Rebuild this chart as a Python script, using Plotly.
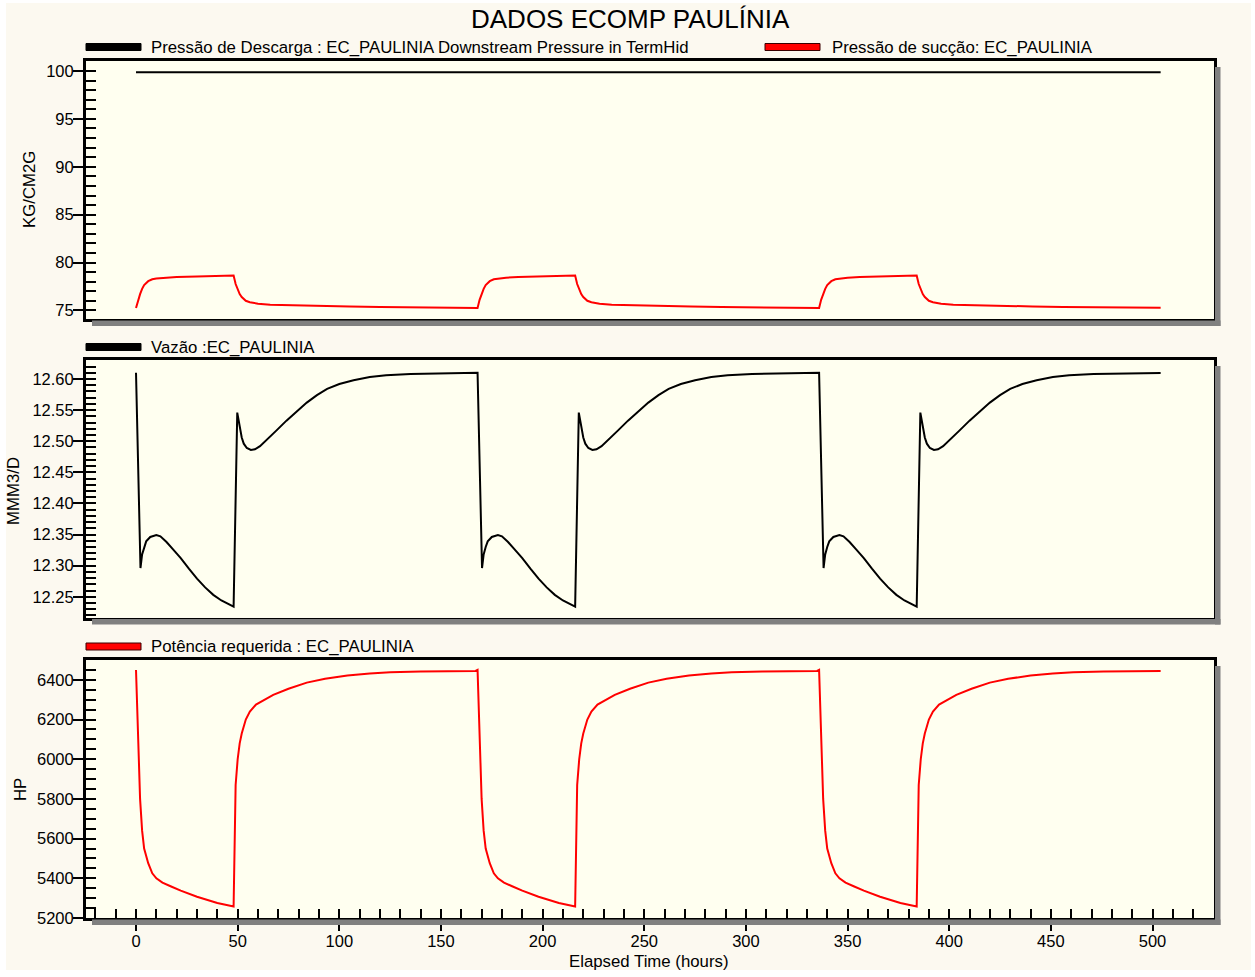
import plotly.graph_objects as go

W, H = 1255, 977

# ---------------- data ----------------
title_text = "DADOS ECOMP PAULÍNIA"
x_title = "Elapsed Time (hours)"
y_titles = ["KG/CM2G", "MMM3/D", "HP"]
legend_names = [
    "Pressão de Descarga : EC_PAULINIA Downstream Pressure in TermHid",
    "Pressão de sucção: EC_PAULINIA",
    "Vazão :EC_PAULINIA",
    "Potência requerida : EC_PAULINIA",
]

cycle_period = 168
n_cycles = 3
end_hour = 504

# discharge pressure (constant)
discharge_t = [0, 504]
discharge_v = [99.88, 99.88]

# suction pressure, one weekly cycle
suction_t = [0, 1, 2, 3, 4, 6, 8, 10, 14, 20, 30, 40, 48,
             49, 50, 51, 52, 54, 56, 60, 66, 75, 90, 105, 120, 140, 167]
suction_v = [75.25, 76.1, 76.7, 77.25, 77.65, 78.05, 78.25, 78.33, 78.42, 78.48, 78.54, 78.6, 78.65,
             77.75, 77.15, 76.7, 76.4, 76.0, 75.85, 75.7, 75.6, 75.54, 75.47, 75.41, 75.36, 75.32, 75.28]

# flow, one weekly cycle
flow_t = [0, 2.2, 3, 4, 5, 7, 10, 12, 15, 18, 22, 26, 30, 34, 38, 42, 45, 48,
          49.8, 51, 52, 53, 54.5, 56.5, 58.5, 61, 64, 69, 74, 79, 84, 89, 94, 100,
          107, 115, 123, 135, 148, 167]
flow_v = [12.610, 12.296, 12.318, 12.330, 12.339, 12.346, 12.349, 12.347, 12.338, 12.327,
          12.312, 12.295, 12.279, 12.265, 12.253, 12.244, 12.239, 12.234,
          12.546, 12.520, 12.506, 12.496, 12.489, 12.486, 12.487, 12.492, 12.501, 12.517,
          12.533, 12.548, 12.562, 12.574, 12.584, 12.592, 12.598, 12.603, 12.606, 12.608,
          12.609, 12.6096]

# required power, one weekly cycle
power_t = [0, 1, 2, 3, 4, 6, 8, 10, 13, 17, 22, 30, 35, 40, 44, 48,
           49, 50, 51, 52, 54, 56, 59, 63, 67.5, 75, 84, 93, 104, 115, 125, 140, 167]
power_v = [6450, 6100, 5800, 5640, 5550, 5476, 5425, 5400, 5378, 5360, 5338, 5307, 5290,
           5276, 5267, 5258, 5870, 6000, 6080, 6130, 6200, 6240, 6275, 6300, 6324, 6355,
           6386, 6405, 6422, 6432, 6438, 6442, 6445]

x_range = [-24.6, 530]
y_ranges = [[74.1, 101.05], [12.2166, 12.6305], [5200, 6500]]
y_major = [5, 0.05, 200]
y_minor = [1, 0.01, 50]
y_formats = ["d", ".2f", "d"]


def tile(ts, vs):
    T, V = [], []
    for k in range(n_cycles):
        T += [t + cycle_period * k for t in ts]
        V += list(vs)
    T.append(end_hour)
    V.append(vs[-1])
    return T, V


# ---------------- layout geometry (pixels) ----------------
PX_L, PX_R = 86, 1213.5
PANELS = [(61, 319), (360, 617.5), (660, 918)]


def px(x):
    return x / W


def py(y):
    return 1 - y / H


FONT = "Liberation Sans, Arial, sans-serif"
PAPER = "#FCF9F0"
PLOT = "#FFFFF0"
TICK_SIZE = 16.5
TEXT_SIZE = 16.8

fig = go.Figure()

st, sv = tile(suction_t, suction_v)
ft, fv = tile(flow_t, flow_v)
pt, pv = tile(power_t, power_v)

fig.add_trace(go.Scatter(x=discharge_t, y=discharge_v, mode="lines",
                         line=dict(color="black", width=2), xaxis="x", yaxis="y",
                         name=legend_names[0], showlegend=False))
fig.add_trace(go.Scatter(x=st, y=sv, mode="lines",
                         line=dict(color="#FF0000", width=2), xaxis="x", yaxis="y",
                         name=legend_names[1], showlegend=False))
fig.add_trace(go.Scatter(x=ft, y=fv, mode="lines",
                         line=dict(color="black", width=2), xaxis="x2", yaxis="y2",
                         name=legend_names[2], showlegend=False))
fig.add_trace(go.Scatter(x=pt, y=pv, mode="lines",
                         line=dict(color="#FF0000", width=2), xaxis="x3", yaxis="y3",
                         name=legend_names[3], showlegend=False))

# empty traces to register overlay axes (inside tick marks)
for xa, ya in [("x", "y4"), ("x2", "y5"), ("x3", "y6"), ("x4", "y3")]:
    fig.add_trace(go.Scatter(x=[], y=[], xaxis=xa, yaxis=ya, showlegend=False,
                             hoverinfo="skip"))

layout = dict(
    width=W, height=H, autosize=False,
    margin=dict(l=0, r=0, t=0, b=0, pad=0, autoexpand=False),
    paper_bgcolor=PAPER, plot_bgcolor=PLOT,
    showlegend=False,
    font=dict(family=FONT, size=16, color="black"),
)

xdom = [px(PX_L), px(PX_R)]
axis_line = dict(showline=True, mirror=True, linecolor="black", linewidth=3,
                 showgrid=False, zeroline=False, automargin=False)

for i, (top, bot) in enumerate(PANELS):
    n = i + 1
    xs = "" if n == 1 else str(n)
    ydom = [py(bot), py(top)]
    xa = dict(domain=xdom, range=x_range, anchor="y" + xs, **axis_line)
    if n < 3:
        xa.update(showticklabels=False, ticks="")
    else:
        xa.update(ticks="outside", ticklen=10, tickwidth=2, tickcolor="black",
                  tick0=0, dtick=50, tickfont=dict(size=TICK_SIZE, family=FONT),
                  ticklabelstandoff=-4)
    layout["xaxis" + xs] = xa
    layout["yaxis" + xs] = dict(domain=ydom, range=y_ranges[i], anchor="x" + xs,
                                ticks="outside", ticklen=10, tickwidth=2, tickcolor="black",
                                tick0=0, dtick=y_major[i], tickformat=y_formats[i],
                                tickfont=dict(size=TICK_SIZE, family=FONT),
                                ticklabelstandoff=-4, **axis_line)
    # overlay y axis for inside ticks
    layout["yaxis" + str(n + 3)] = dict(overlaying="y" + xs, anchor="x" + xs, side="left",
                                        range=y_ranges[i], ticks="inside", ticklen=10,
                                        tickwidth=2, tickcolor="black", tick0=0,
                                        dtick=y_minor[i], showticklabels=False,
                                        showline=False, showgrid=False, zeroline=False,
                                        automargin=False)

layout["xaxis4"] = dict(overlaying="x3", anchor="y3", side="bottom", range=x_range,
                        ticks="inside", ticklen=9, tickwidth=2, tickcolor="black",
                        tick0=0, dtick=10, showticklabels=False, showline=False,
                        showgrid=False, zeroline=False, automargin=False)

fig.update_layout(**layout)

shapes = []
# shadows (right and bottom strips)
for top, bot in PANELS:
    shapes.append(dict(type="rect", xref="paper", yref="paper",
                       x0=px(PX_R + 1.5), x1=px(PX_R + 7), y0=py(bot + 7), y1=py(top + 6),
                       fillcolor="#808080", line=dict(width=0)))
    shapes.append(dict(type="rect", xref="paper", yref="paper",
                       x0=px(PX_L + 6), x1=px(PX_R + 7), y0=py(bot + 7), y1=py(bot + 1.5),
                       fillcolor="#808080", line=dict(width=0)))

# legend swatches
swatches = [(86, 141, 47, "black", "black"),
            (765, 820, 47, "#FF0000", "#3a0000"),
            (86, 141, 347, "black", "black"),
            (86, 141, 646.5, "#FF0000", "#3a0000")]
for x0, x1, yc, fill, edge in swatches:
    shapes.append(dict(type="rect", xref="paper", yref="paper",
                       x0=px(x0), x1=px(x1), y0=py(yc + 3.5), y1=py(yc - 3.5),
                       fillcolor=fill, line=dict(color=edge, width=1)))

# white margin strips around the cream background
for x0, x1, y0, y1 in [(0, 6, 0, H), (1251, W, 0, H), (0, W, 0, 3), (0, W, 970, H)]:
    shapes.append(dict(type="rect", xref="paper", yref="paper",
                       x0=px(x0), x1=px(x1), y0=py(y1), y1=py(y0),
                       fillcolor="white", line=dict(width=0)))

fig.update_layout(shapes=shapes)

ann = []
ann.append(dict(text=title_text, x=px(630), y=py(19), xref="paper", yref="paper",
                xanchor="center", yanchor="middle", showarrow=False,
                font=dict(size=26, family=FONT, color="black")))
legend_pos = [(149, 47), (830, 47), (149, 347), (149, 646.5)]
for name, (lx, ly) in zip(legend_names, legend_pos):
    ann.append(dict(text=name, x=px(lx), y=py(ly), xref="paper", yref="paper",
                    xanchor="left", yanchor="middle", showarrow=False,
                    font=dict(size=TEXT_SIZE, family=FONT, color="black")))
ytitle_pos = [(30, 190), (14, 491), (20, 790)]
for t, (tx, ty) in zip(y_titles, ytitle_pos):
    ann.append(dict(text=t, x=px(tx), y=py(ty), xref="paper", yref="paper",
                    xanchor="center", yanchor="middle", showarrow=False, textangle=-90,
                    font=dict(size=TEXT_SIZE, family=FONT, color="black")))
ann.append(dict(text=x_title, x=px(649), y=py(961), xref="paper", yref="paper",
                xanchor="center", yanchor="middle", showarrow=False,
                font=dict(size=TEXT_SIZE, family=FONT, color="black")))
fig.update_layout(annotations=ann)

fig.write_html("out.html")
